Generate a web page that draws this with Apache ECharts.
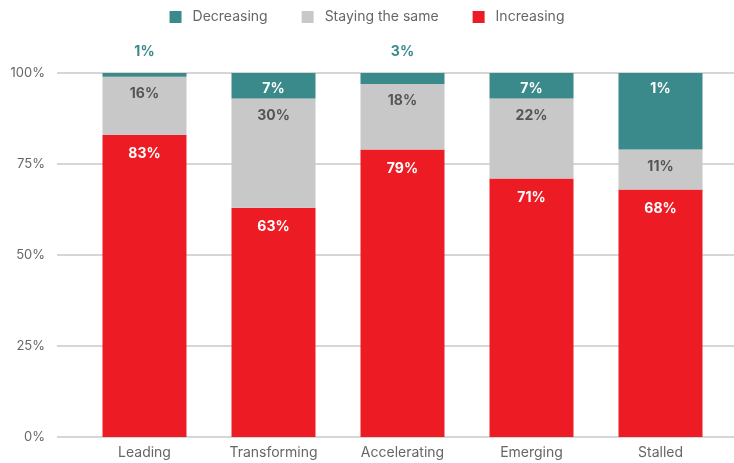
<!DOCTYPE html>
<html>
<head>
<meta charset="utf-8">
<script src="https://cdn.jsdelivr.net/npm/echarts@6/dist/echarts.min.js"></script>
<style>
  html, body { margin: 0; padding: 0; background: #fff; }
  #chart { width: 734px; height: 463px; }
</style>
</head>
<body>
<div id="chart"></div>
<script>
const categories = ['Leading', 'Transforming', 'Accelerating', 'Emerging', 'Stalled'];
const increasing = [83, 63, 79, 71, 68];
const stayingSame = [16, 30, 18, 22, 11];
const decreasing = [1, 7, 3, 7, 21];
const decreasingLabels = ['1%', '7%', '3%', '7%', '1%'];
const yTicks = [0, 25, 50, 75, 100];

const FONT = 'Inter, "Open Sans", sans-serif';
const RED = '#ed1c24';
const GREY = '#c8c8c8';
const TEAL = '#3a8a8c';

const chart = echarts.init(document.getElementById('chart'));

const labelBase = { show: true, fontFamily: FONT, fontSize: 14, fontWeight: 'bold' };

const option = {
  animation: false,
  textStyle: { fontFamily: FONT },
  legend: {
    top: 5,
    left: 'center',
    itemWidth: 12,
    itemHeight: 12,
    itemGap: 34,
    icon: 'rect',
    data: ['Decreasing', 'Staying the same', 'Increasing'],
    textStyle: { fontSize: 14, color: '#666', fontFamily: FONT, padding: [0, 0, 0, 6] }
  },
  grid: [
    { left: 57, right: 0, top: 73, bottom: 26 },
    { left: 80, width: 645, top: 73, bottom: 26 }
  ],
  xAxis: [
    { gridIndex: 0, type: 'value', show: false, min: 0, max: 1 },
    {
      gridIndex: 1,
      type: 'category',
      data: categories,
      axisLine: { show: false },
      axisTick: { show: false },
      axisLabel: { fontSize: 14, color: '#666', margin: 9, fontFamily: FONT }
    }
  ],
  yAxis: [
    {
      gridIndex: 0,
      type: 'value',
      min: 0,
      max: 100,
      interval: 25,
      axisLine: { show: false },
      axisTick: { show: false },
      axisLabel: {
        fontSize: 13, color: '#666', margin: 12, fontFamily: FONT,
        formatter: v => yTicks.includes(v) ? v + '%' : ''
      },
      splitLine: { lineStyle: { color: '#c8c8c8', width: 1.5 } }
    },
    { gridIndex: 1, type: 'value', min: 0, max: 100, show: false }
  ],
  series: [
    {
      name: 'Increasing',
      type: 'bar',
      stack: 'total',
      xAxisIndex: 1,
      yAxisIndex: 1,
      barWidth: 84,
      itemStyle: { color: RED },
      label: { ...labelBase, position: 'insideTop', distance: 12, color: '#fff', formatter: p => p.value + '%' },
      data: increasing
    },
    {
      name: 'Staying the same',
      type: 'bar',
      stack: 'total',
      xAxisIndex: 1,
      yAxisIndex: 1,
      barWidth: 84,
      itemStyle: { color: GREY },
      label: { ...labelBase, position: 'insideTop', distance: 10, color: '#555', formatter: p => p.value + '%' },
      data: stayingSame
    },
    {
      name: 'Decreasing',
      type: 'bar',
      stack: 'total',
      xAxisIndex: 1,
      yAxisIndex: 1,
      barWidth: 84,
      itemStyle: { color: TEAL },
      data: decreasing.map((v, i) => ({
        value: v,
        label: v < 5
          ? { ...labelBase, position: 'top', distance: 14, color: TEAL, formatter: decreasingLabels[i] }
          : { ...labelBase, position: 'insideTop', distance: 9, color: '#fff', formatter: decreasingLabels[i] }
      }))
    }
  ]
};

chart.setOption(option);
</script>
</body>
</html>
